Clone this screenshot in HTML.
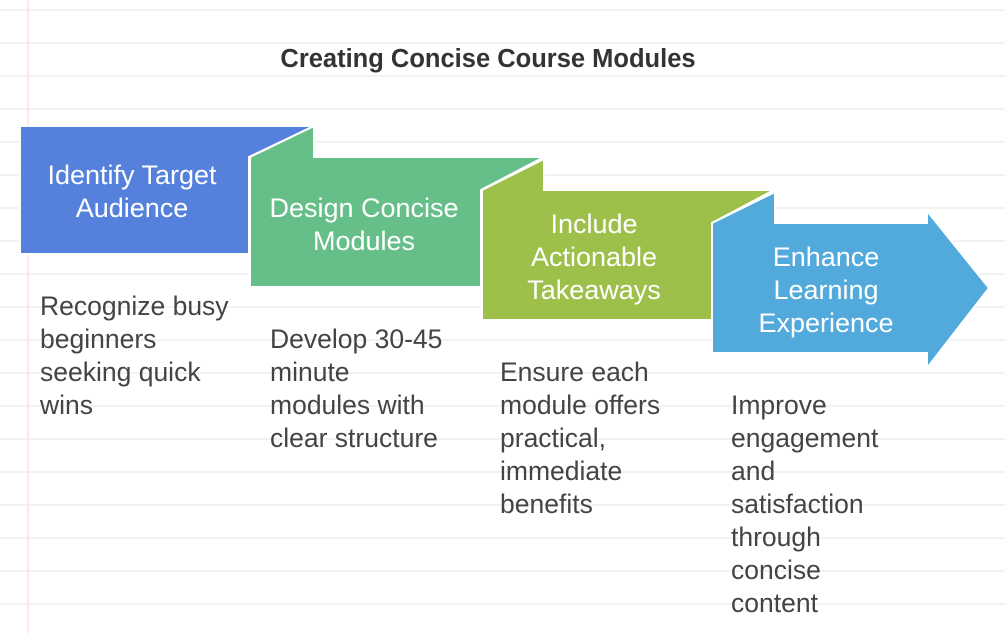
<!DOCTYPE html>
<html><head><style>
html,body{margin:0;padding:0;background:#fff;}
svg{display:block;}
text{font-family:"Liberation Sans",Arial,sans-serif;}
.h{fill:#fff;font-size:27px;text-anchor:middle;}
.d{fill:#444;font-size:26.5px;}
</style></head><body>
<svg width="1005" height="633" viewBox="0 0 1005 633" xmlns="http://www.w3.org/2000/svg">
<g stroke="#f2f2f2" stroke-width="2">
<line x1="0" y1="10" x2="1005" y2="10"/><line x1="0" y1="43" x2="1005" y2="43"/><line x1="0" y1="76" x2="1005" y2="76"/><line x1="0" y1="109" x2="1005" y2="109"/><line x1="0" y1="142" x2="1005" y2="142"/><line x1="0" y1="175" x2="1005" y2="175"/><line x1="0" y1="208" x2="1005" y2="208"/><line x1="0" y1="241" x2="1005" y2="241"/><line x1="0" y1="274" x2="1005" y2="274"/><line x1="0" y1="307" x2="1005" y2="307"/><line x1="0" y1="340" x2="1005" y2="340"/><line x1="0" y1="373" x2="1005" y2="373"/><line x1="0" y1="406" x2="1005" y2="406"/><line x1="0" y1="439" x2="1005" y2="439"/><line x1="0" y1="472" x2="1005" y2="472"/><line x1="0" y1="505" x2="1005" y2="505"/><line x1="0" y1="538" x2="1005" y2="538"/><line x1="0" y1="571" x2="1005" y2="571"/><line x1="0" y1="604" x2="1005" y2="604"/>
</g>
<line x1="28" y1="0" x2="28" y2="633" stroke="#fbe3e3" stroke-width="1.5"/>
<text x="488" y="67" text-anchor="middle" style="font-size:25.5px;font-weight:bold;fill:#333">Creating Concise Course Modules</text>

<g stroke="#fff" stroke-width="2" stroke-linejoin="miter">
<polygon points="20,126 314,126 249,157 249,254 20,254" fill="#5580db"/>
<polygon points="250,157 314,126 314,157 544,157 481,190 481,287 250,287" fill="#66bf88"/>
<polygon points="482,190 544,159 544,190 774,190 712,223 712,320 482,320" fill="#9dc04b"/>
<polygon points="712,223 775,192 775,223 927,223 927,211 989,288 927,368 927,353 712,353" fill="#51a9dc"/>
</g>

<text class="h" x="132" y="184">Identify Target</text>
<text class="h" x="132" y="217">Audience</text>
<text class="h" x="364" y="217">Design Concise</text>
<text class="h" x="364" y="250">Modules</text>
<text class="h" x="594" y="233">Include</text>
<text class="h" x="594" y="266">Actionable</text>
<text class="h" x="594" y="299">Takeaways</text>
<text class="h" x="826" y="266">Enhance</text>
<text class="h" x="826" y="299">Learning</text>
<text class="h" x="826" y="332">Experience</text>

<text class="d" x="40" y="315">Recognize busy</text>
<text class="d" x="40" y="348">beginners</text>
<text class="d" x="40" y="381">seeking quick</text>
<text class="d" x="40" y="414">wins</text>

<text class="d" x="270" y="348">Develop 30-45</text>
<text class="d" x="270" y="381">minute</text>
<text class="d" x="270" y="414">modules with</text>
<text class="d" x="270" y="447">clear structure</text>

<text class="d" x="500" y="381">Ensure each</text>
<text class="d" x="500" y="414">module offers</text>
<text class="d" x="500" y="447">practical,</text>
<text class="d" x="500" y="480">immediate</text>
<text class="d" x="500" y="513">benefits</text>

<text class="d" x="731" y="414">Improve</text>
<text class="d" x="731" y="447">engagement</text>
<text class="d" x="731" y="480">and</text>
<text class="d" x="731" y="513">satisfaction</text>
<text class="d" x="731" y="546">through</text>
<text class="d" x="731" y="579">concise</text>
<text class="d" x="731" y="612">content</text>
</svg>
</body></html>
